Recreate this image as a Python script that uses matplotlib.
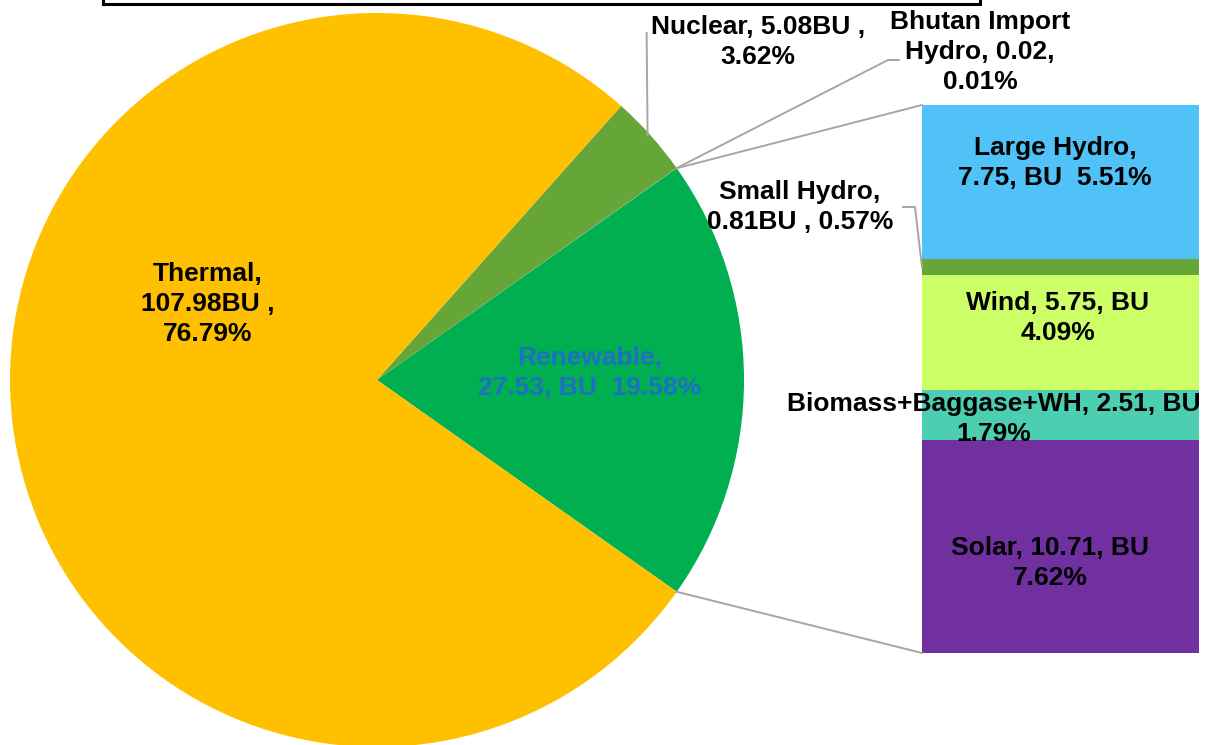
import matplotlib
matplotlib.use("Agg")
import matplotlib.pyplot as plt
from matplotlib.patches import Rectangle
import numpy as np

plt.rcParams['font.family'] = ['Liberation Sans', 'DejaVu Sans']

# ---- data ----
pie_names = ["Renewable", "Bhutan Import Hydro", "Nuclear", "Thermal"]
pie_values = [27.53, 0.02, 5.08, 107.98]
pie_pcts = [19.58, 0.01, 3.62, 76.79]
pie_colors = ["#00B050", "#5B9BD5", "#66A638", "#FFC000"]

bar_names = ["Solar", "Biomass+Baggase+WH", "Wind", "Small Hydro", "Large Hydro"]
bar_values = [10.71, 2.51, 5.75, 0.81, 7.75]
bar_pcts = [7.62, 1.79, 4.09, 0.57, 5.51]
bar_colors = ["#7030A0", "#4BCFB0", "#CCFF66", "#66A638", "#50C2F7"]

pie_texts = ["Renewable,\n27.53, BU  19.58%",
             "Bhutan Import\nHydro, 0.02,\n0.01%",
             "Nuclear, 5.08BU ,\n3.62%",
             "Thermal,\n107.98BU ,\n76.79%"]
bar_texts = ["Solar, 10.71, BU\n7.62%",
             "Biomass+Baggase+WH, 2.51, BU\n1.79%",
             "Wind, 5.75, BU\n4.09%",
             "Small Hydro,\n0.81BU , 0.57%",
             "Large Hydro,\n7.75, BU  5.51%"]

W, H = 1210, 745
fig = plt.figure(figsize=(W / 100, H / 100), dpi=100)
fig.patch.set_facecolor("white")

# pie axes (pixel box: x 10..744, y 13..747)
pax = fig.add_axes([10 / W, (H - 747) / H, 734 / W, 734 / H])
total = sum(pie_values)
start = -360 * pie_values[0] / total / 2
wedges, _ = pax.pie(pie_values, colors=pie_colors, startangle=start,
                    counterclock=True, radius=1, center=(0, 0),
                    wedgeprops=dict(linewidth=0))
pax.set_xlim(-1, 1)
pax.set_ylim(-1, 1)
pax.set_aspect("equal")
pax.axis("off")

# bar axes (pixel box: x 922..1199, y 105..653)
bax = fig.add_axes([922 / W, (H - 653) / H, 277 / W, 548 / H])
bottom = 0
bottoms = []
for v, c in zip(bar_values, bar_colors):
    bax.bar(0, v, width=1, bottom=bottom, color=c, linewidth=0)
    bottoms.append(bottom)
    bottom += v
bax.set_xlim(-0.5, 0.5)
bax.set_ylim(0, sum(bar_values))
bax.axis("off")

# overlay in pixel coords
ov = fig.add_axes([0, 0, 1, 1], zorder=10)
ov.set_xlim(0, W)
ov.set_ylim(H, 0)
ov.axis("off")

def to_ov(ax, x, y):
    return ov.transData.inverted().transform(ax.transData.transform((x, y)))

def pie_pt(angle_deg, r=1.0):
    a = np.deg2rad(angle_deg)
    return to_ov(pax, r * np.cos(a), r * np.sin(a))

lc = "#A6A6A6"
lw = 1.4

# wedge angles
cum = np.cumsum([0] + pie_values)
angles = [start + 360 * c / total for c in cum]
mid = [(angles[i] + angles[i + 1]) / 2 for i in range(len(pie_values))]

# connector lines pie -> bar
up = pie_pt(angles[1])
lo = pie_pt(angles[0])
bt = to_ov(bax, -0.5, sum(bar_values))
bb = to_ov(bax, -0.5, 0)
ov.plot([up[0], bt[0]], [up[1], bt[1]], color=lc, lw=lw)
ov.plot([lo[0], bb[0]], [lo[1], bb[1]], color=lc, lw=lw)

# nuclear leader
pn = pie_pt(mid[2])
ov.plot([pn[0] - 3, pn[0] - 4], [pn[1], 33], color=lc, lw=lw)
# bhutan leader
pb = pie_pt(mid[1])
ov.plot([pb[0], 888, 899], [pb[1], 60, 60], color=lc, lw=lw)
# small hydro leader
ps = to_ov(bax, -0.5, bottoms[3] + bar_values[3] / 2)
ov.plot([ps[0], 915, 903], [ps[1], 207, 207], color=lc, lw=lw)

# title box (cut at top)
ov.add_patch(Rectangle((103, -20), 877, 24, fill=False, edgecolor="black",
                       linewidth=2.2, clip_on=False))

fs = 19
kw = dict(ha="center", va="center", fontsize=fs, fontweight="bold",
          linespacing=1.34, multialignment="center")
pie_pos = [(590, 373), (980, 52), (758, 42), (208, 304)]
pie_tc = ["#1F6FC4", "black", "black", "black"]
for t, p, c in zip(pie_texts, pie_pos, pie_tc):
    ov.text(p[0], p[1], t, color=c, **kw)

bar_pos = [(1050, 563), (994, 419), (1058, 318), (800, 207), (1055, 163)]
for t, p in zip(bar_texts, bar_pos):
    ov.text(p[0], p[1], t, color="black", **kw)

fig.savefig("out.png", dpi=100)
